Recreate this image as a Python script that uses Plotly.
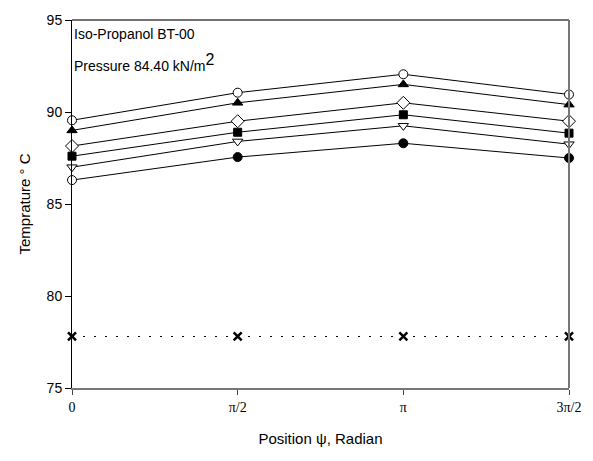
import math
import plotly.graph_objects as go

x_vals = [0, math.pi / 2, math.pi, 3 * math.pi / 2]
x_labels = ["0", "π/2", "π", "3π/2"]

s_open_circle = [89.55, 91.05, 92.05, 90.95]
s_tri_up = [89.0, 90.5, 91.5, 90.4]
s_diamond = [88.15, 89.5, 90.5, 89.5]
s_square = [87.6, 88.9, 89.85, 88.85]
s_tri_down = [87.0, 88.4, 89.25, 88.25]
s_circle = [86.3, 87.55, 88.3, 87.5]
s_cross = [77.8, 77.8, 77.8, 77.8]

fig = go.Figure()

def add(y, symbol, fill, size=9, dash="solid"):
    fig.add_trace(go.Scatter(
        x=x_vals, y=y, mode="lines+markers",
        line=dict(color="black", width=1, dash=dash),
        marker=dict(symbol=symbol, size=size, color=fill,
                    line=dict(color="black", width=1)),
        cliponaxis=False, showlegend=False))

add(s_open_circle, "circle", "white")
add(s_tri_up, "triangle-up", "black")
add(s_diamond, "diamond", "white", size=10)
add(s_square, "square", "black", size=8)
add(s_tri_down, "triangle-down", "white")
add(s_circle, "circle", ["white", "black", "black", "black"])
add(s_cross, "x-thin", "black", size=8, dash="2px,9px")
fig.data[-1].marker.line.width = 2.5

fig.update_layout(
    width=593, height=461,
    margin=dict(l=72, r=21, t=15, b=73),
    paper_bgcolor="white", plot_bgcolor="white",
    font=dict(family="Liberation Sans, Arial", size=14, color="black"),
)
fig.update_xaxes(
    range=[0, 3 * math.pi / 2], tickvals=x_vals, ticktext=x_labels,
    tickfont=dict(family="Liberation Serif, Times New Roman", size=14),
    ticks="outside", ticklen=5, tickcolor="#444",
    showline=True, linecolor="#777", linewidth=1.5,
    showgrid=False, zeroline=False,
    title=dict(text="Position ψ, Radian", standoff=20,
               font=dict(family="Liberation Sans, Arial", size=15)),
)
fig.update_yaxes(
    range=[75, 95], tickvals=[75, 80, 85, 90, 95],
    ticks="outside", ticklen=6, tickcolor="black",
    showline=True, linecolor="black", linewidth=1,
    showgrid=False, zeroline=False,
    tickfont=dict(size=14),
    title=dict(text="Temprature ° C", standoff=12,
               font=dict(family="Liberation Sans, Arial", size=15)),
)
# frame: top and right
fig.add_shape(type="line", xref="paper", yref="paper", x0=0, x1=1, y0=1, y1=1,
              line=dict(color="#444", width=1.5))
fig.add_shape(type="line", xref="paper", yref="paper", x0=1, x1=1, y0=0, y1=1,
              line=dict(color="#777", width=2))

fig.add_annotation(xref="paper", yref="paper", x=0.0, y=0.962, xanchor="left", yanchor="middle",
                   text="Iso-Propanol BT-00", showarrow=False, font=dict(size=14))
fig.add_annotation(xref="paper", yref="paper", x=0.0, y=0.885, xanchor="left", yanchor="middle",
                   text="Pressure 84.40 kN/m<sup><span style='font-size:16px'>2</span></sup>",
                   showarrow=False, font=dict(size=14))

fig.write_html("out.html")
